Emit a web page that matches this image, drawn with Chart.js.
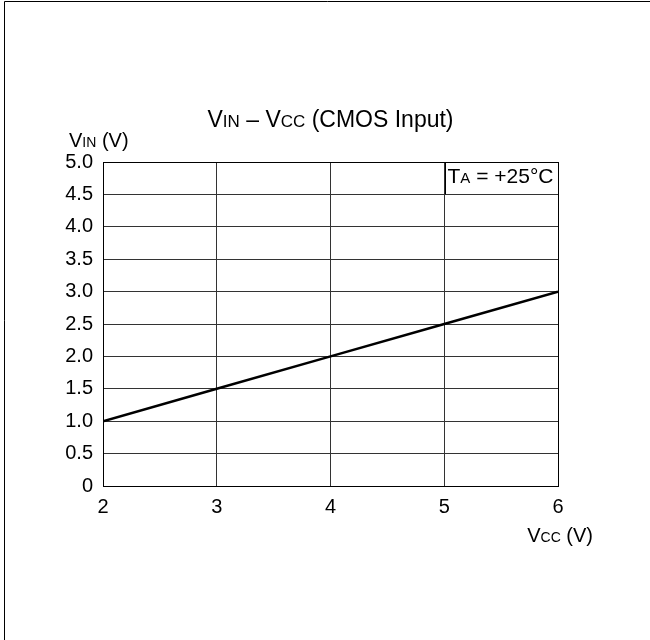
<!DOCTYPE html>
<html>
<head>
<meta charset="utf-8">
<script src="https://cdn.jsdelivr.net/npm/chart.js@4/dist/chart.umd.min.js"></script>
<style>
  html, body { margin: 0; padding: 0; background: #fff; }
  #wrap { position: relative; width: 650px; height: 640px; }
</style>
</head>
<body>
<div id="wrap"><canvas id="vinChart" width="650" height="640"></canvas></div>
<script>
// V_IN vs V_CC (CMOS input), TA = +25°C
const vccValues = [2, 3, 4, 5, 6];
const vinValues = [1.0, 1.5, 2.0, 2.5, 3.0];
const xTickValues = [2, 3, 4, 5, 6];
const yTickLabels = ['0', '0.5', '1.0', '1.5', '2.0', '2.5', '3.0', '3.5', '4.0', '4.5', '5.0'];

const FONT = 'Arial, "Liberation Sans", Helvetica, sans-serif';
const BIG = 20;
const SMALL = 14;

// texts with subscripts, pieces of [text, size]
const titleParts = [['V', 23], ['IN', 17], [' \u2013 V', 23], ['CC', 17], [' (CMOS Input)', 23]];
const yTitleParts = [['V', BIG], ['IN', SMALL], [' (V)', BIG]];
const xTitleParts = [['V', BIG], ['CC', SMALL], [' (V)', BIG]];
const noteParts = [['T', 21], ['A', 15], [' = +25\u00B0C', 21]];

function partsWidth(ctx, parts) {
    let w = 0;
    parts.forEach(p => { ctx.font = p[1] + 'px ' + FONT; w += ctx.measureText(p[0]).width; });
    return w;
}

function drawParts(ctx, parts, x, y, align) {
    const w = partsWidth(ctx, parts);
    let cx = align === 'center' ? x - w / 2 : (align === 'right' ? x - w : x);
    ctx.textBaseline = 'alphabetic';
    ctx.textAlign = 'left';
    parts.forEach(p => {
        ctx.font = p[1] + 'px ' + FONT;
        ctx.fillText(p[0], cx, y);
        cx += ctx.measureText(p[0]).width;
    });
}

// ─────────────────────────────────────────────
// frame, titles and the temperature note
// ─────────────────────────────────────────────
const decorPlugin = {
    id: 'decor',
    afterDraw(chart) {
        const { ctx, chartArea: a, scales } = chart;
        ctx.save();
        ctx.strokeStyle = '#000';
        ctx.lineWidth = 1;
        // page border (top and left only)
        ctx.beginPath();
        ctx.moveTo(4.5, 640); ctx.lineTo(4.5, 1.5); ctx.lineTo(650, 1.5);
        ctx.stroke();
        // plot frame
        ctx.strokeRect(Math.round(a.left) + 0.5, Math.round(a.top) + 0.5,
            Math.round(a.right - a.left), Math.round(a.bottom - a.top));
        // note box edge
        const boxLeft = Math.round(a.right) - 113 + 0.5;
        const boxBottom = scales.y.getPixelForValue(4.5);
        ctx.beginPath();
        ctx.moveTo(boxLeft, a.top); ctx.lineTo(boxLeft, boxBottom);
        ctx.stroke();

        ctx.fillStyle = '#000';
        drawParts(ctx, titleParts, (a.left + a.right) / 2, 127, 'center');
        drawParts(ctx, yTitleParts, 69, 147, 'left');
        drawParts(ctx, xTitleParts, 593, 542, 'right');
        drawParts(ctx, noteParts, boxLeft + 2, a.top + 21, 'left');
        ctx.restore();
    }
};

new Chart(document.getElementById('vinChart'), {
    type: 'line',
    data: {
        datasets: [{
            data: vccValues.map((v, i) => ({ x: v, y: vinValues[i] })),
            borderColor: '#000',
            borderWidth: 2.5,
            pointRadius: 0,
            tension: 0,
            fill: false
        }]
    },
    options: {
        responsive: false,
        animation: false,
        events: [],
        layout: { padding: { left: 0, top: 162, right: 92, bottom: 124 } },
        plugins: { legend: { display: false }, tooltip: { enabled: false } },
        scales: {
            x: {
                type: 'linear',
                min: 2, max: 6,
                afterBuildTicks: s => { s.ticks = xTickValues.map(v => ({ value: v })); },
                afterFit: s => { s.height = 30; },
                grid: { color: '#333', lineWidth: 1, drawTicks: false },
                border: { display: false },
                ticks: { color: '#000', font: { family: FONT, size: BIG }, padding: 9, maxRotation: 0 }
            },
            y: {
                type: 'linear',
                min: 0, max: 5,
                afterBuildTicks: s => { s.ticks = yTickLabels.map(t => ({ value: parseFloat(t) })); },
                afterFit: s => { s.width = 103; },
                grid: { color: '#333', lineWidth: 1, drawTicks: false },
                border: { display: false },
                ticks: {
                    color: '#000', font: { family: FONT, size: BIG }, padding: 10,
                    callback: (v, i) => yTickLabels[i]
                }
            }
        }
    },
    plugins: [decorPlugin]
});
</script>
</body>
</html>
